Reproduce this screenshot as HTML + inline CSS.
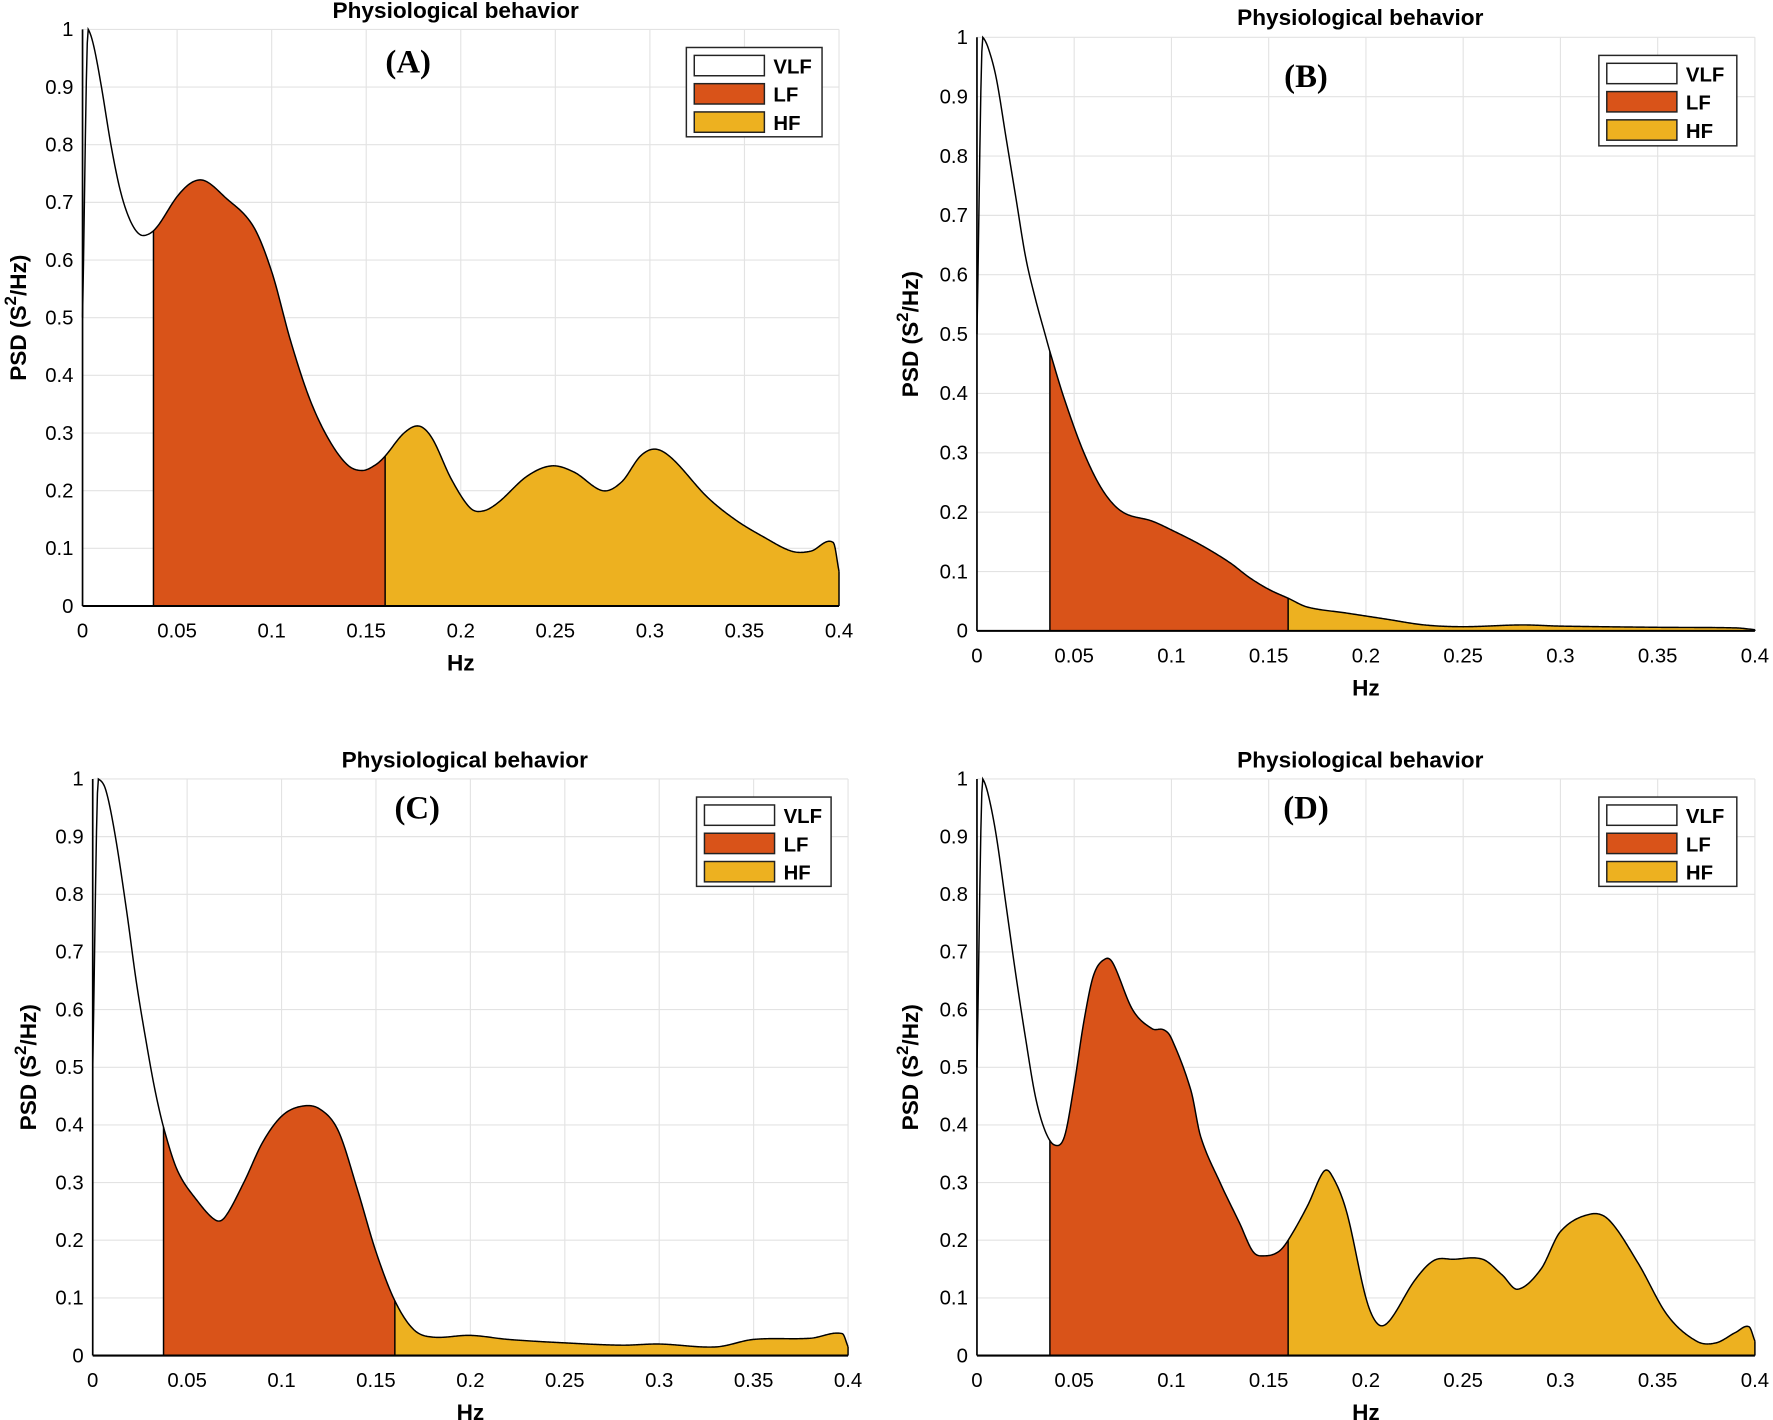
<!DOCTYPE html>
<html><head><meta charset="utf-8"><style>
html,body{margin:0;padding:0;background:#fff;}
svg{display:block;}
text{font-family:"Liberation Sans",Arial,sans-serif;fill:#000;}
</style></head><body>
<svg id="s" width="1773" height="1420" viewBox="0 0 1568 1256" preserveAspectRatio="none" xmlns="http://www.w3.org/2000/svg"></svg>
<script>
const NS="http://www.w3.org/2000/svg";
const S=document.getElementById('s');
function el(t,a,txt){const e=document.createElementNS(NS,t);for(const k in a)e.setAttribute(k,a[k]);if(txt!==undefined)e.textContent=txt;S.appendChild(e);return e;}
function interp(pts){
 const n=pts.length,xs=pts.map(p=>p[0]),ys=pts.map(p=>p[1]);
 const d=[],m=[];
 for(let i=0;i<n-1;i++)d.push((ys[i+1]-ys[i])/(xs[i+1]-xs[i]));
 m[0]=d[0];m[n-1]=d[n-2];
 for(let i=1;i<n-1;i++){m[i]=(ys[i+1]-ys[i-1])/(xs[i+1]-xs[i-1]);}
 m[1]=d[1]*0.5;
 return function(x){
  let i=0;while(i<n-2&&x>xs[i+1])i++;
  const h=xs[i+1]-xs[i],t=(x-xs[i])/h,t2=t*t,t3=t2*t;
  return (2*t3-3*t2+1)*ys[i]+(t3-2*t2+t)*h*m[i]+(-2*t3+3*t2)*ys[i+1]+(t3-t2)*h*m[i+1];
 };
}
function panel(P){
 const {x0,x1,yt,yb}=P;
 const X=f=>x0+f/0.4*(x1-x0), Y=v=>yb-v*(yb-yt);
 for(let i=1;i<=8;i++){el('line',{x1:X(i*0.05),x2:X(i*0.05),y1:yt,y2:yb,stroke:'#e3e3e3','stroke-width':1});}
 for(let i=1;i<=10;i++){el('line',{x1:x0,x2:x1,y1:Y(i/10),y2:Y(i/10),stroke:'#e3e3e3','stroke-width':1});}
 const f0=interp(P.d);
 const f=x=>Math.min(1,Math.max(0,f0(x)));
 const samp=(a,b)=>{const r=[];for(let x=a;x<=b+1e-9;x+=0.0005)r.push([X(x),Y(f(x))]);return r;};
 const poly=(a,b,c)=>{const r=samp(a,b);let s='M'+X(a)+','+yb+' '+r.map(p=>'L'+p[0].toFixed(2)+','+p[1].toFixed(2)).join(' ')+' L'+X(b)+','+yb+'Z';el('path',{d:s,fill:c,stroke:'none'});};
 poly(P.lf,0.16,'#d95319');
 poly(0.16,0.4,'#edb120');
 const all=samp(0,0.4);
 el('path',{d:'M'+all.map(p=>p[0].toFixed(2)+','+p[1].toFixed(2)).join(' L'),fill:'none',stroke:'#000','stroke-width':1.3});
 el('line',{x1:X(P.lf),x2:X(P.lf),y1:yb,y2:Y(f(P.lf)),stroke:'#000','stroke-width':1.3});
 el('line',{x1:X(0.16),x2:X(0.16),y1:yb,y2:Y(f(0.16)),stroke:'#000','stroke-width':1.3});
 el('line',{x1:X(0.4),x2:X(0.4),y1:yb,y2:Y(f(0.4)),stroke:'#000','stroke-width':1.3});
 el('line',{x1:x0,x2:x0,y1:yt,y2:yb,stroke:'#000','stroke-width':1.5});
 el('line',{x1:x0,x2:x1,y1:yb,y2:yb,stroke:'#000','stroke-width':1.8});
 const xl=['0','0.05','0.1','0.15','0.2','0.25','0.3','0.35','0.4'];
 xl.forEach((t,i)=>el('text',{x:X(i*0.05),y:yb+28,'text-anchor':'middle','font-size':18},t));
 for(let i=0;i<=10;i++){const t=i==0?'0':i==10?'1':'0.'+i;el('text',{x:x0-8,y:Y(i/10)+6,'text-anchor':'end','font-size':18},t);}
 el('text',{x:(x0+x1)/2,y:yb+57,'text-anchor':'middle','font-size':20,'font-weight':'bold'},'Hz');
 const yl=el('text',{x:0,y:0,'text-anchor':'middle','font-size':20,'font-weight':'bold',transform:`translate(${P.ylx},${(yt+yb)/2}) rotate(-90)`});
 yl.innerHTML='PSD (S<tspan dy="-9" font-size="15">2</tspan><tspan dy="9">/Hz)</tspan>';
 el('text',{x:P.tx,y:P.ty,'text-anchor':'middle','font-size':20,'font-weight':'bold'},'Physiological behavior');
 el('text',{x:P.lx,y:P.ly,'text-anchor':'middle','font-size':29,'font-weight':'bold','style':'font-family:"Liberation Serif",serif'},P.lab);
 const lg=P.leg;
 el('rect',{x:lg[0],y:lg[1],width:lg[2]-lg[0],height:lg[3]-lg[1],fill:'#fff',stroke:'#262626','stroke-width':1.3});
 [['#fff','VLF'],['#d95319','LF'],['#edb120','HF']].forEach((c,i)=>{
  const yy=lg[1]+7+i*25;
  el('rect',{x:lg[0]+7,y:yy,width:62,height:18,fill:c[0],stroke:'#222','stroke-width':1.3});
  el('text',{x:lg[0]+77,y:yy+16,'font-size':18,'font-weight':'bold'},c[1]);
 });
}
panel({x0:73,x1:742,yt:26,yb:536,lf:0.0375,ylx:23,tx:403,ty:16,lx:361,ly:64,lab:'(A)',leg:[607,42,727,121],
d:[[0,0.5],[0.003,1.0],[0.006,0.97],[0.01,0.9],[0.015,0.8],[0.02,0.72],[0.025,0.67],[0.03,0.645],[0.035,0.645],[0.04,0.66],[0.05,0.71],[0.058,0.735],[0.065,0.737],[0.075,0.71],[0.09,0.66],[0.1,0.58],[0.11,0.46],[0.12,0.36],[0.13,0.29],[0.14,0.245],[0.148,0.235],[0.155,0.245],[0.16,0.26],[0.17,0.3],[0.178,0.312],[0.185,0.29],[0.195,0.22],[0.205,0.17],[0.212,0.165],[0.22,0.18],[0.235,0.225],[0.248,0.243],[0.26,0.232],[0.275,0.2],[0.285,0.215],[0.295,0.26],[0.303,0.272],[0.312,0.255],[0.33,0.19],[0.345,0.15],[0.36,0.12],[0.375,0.095],[0.385,0.095],[0.397,0.11],[0.4,0.06]]});
panel({x0:864,x1:1552,yt:33,yb:558,lf:0.0375,ylx:812,tx:1203,ty:22,lx:1155,ly:77,lab:'(B)',leg:[1414,49,1536,129],
d:[[0,0.5],[0.003,1.0],[0.006,0.98],[0.01,0.93],[0.015,0.83],[0.02,0.73],[0.025,0.63],[0.03,0.56],[0.035,0.5],[0.038,0.465],[0.045,0.39],[0.055,0.3],[0.065,0.235],[0.075,0.2],[0.09,0.185],[0.1,0.17],[0.115,0.145],[0.13,0.115],[0.14,0.09],[0.15,0.07],[0.16,0.055],[0.17,0.04],[0.19,0.03],[0.21,0.02],[0.23,0.01],[0.25,0.007],[0.28,0.01],[0.3,0.008],[0.35,0.006],[0.39,0.005],[0.4,0.002]]});
panel({x0:82,x1:750,yt:689,yb:1199,lf:0.0375,ylx:32,tx:411,ty:679,lx:369,ly:724,lab:'(C)',leg:[616,705,735,784],
d:[[0,0.5],[0.003,1.0],[0.007,0.98],[0.012,0.9],[0.018,0.77],[0.023,0.65],[0.028,0.55],[0.033,0.46],[0.038,0.39],[0.045,0.32],[0.055,0.27],[0.065,0.235],[0.07,0.24],[0.08,0.3],[0.09,0.37],[0.1,0.415],[0.11,0.432],[0.12,0.428],[0.13,0.39],[0.14,0.29],[0.15,0.18],[0.16,0.095],[0.17,0.045],[0.18,0.032],[0.2,0.035],[0.22,0.028],[0.25,0.022],[0.28,0.018],[0.3,0.02],[0.33,0.015],[0.35,0.028],[0.38,0.03],[0.397,0.038],[0.4,0.015]]});
panel({x0:864,x1:1552,yt:689,yb:1199,lf:0.0375,ylx:812,tx:1203,ty:679,lx:1155,ly:724,lab:'(D)',leg:[1414,705,1536,784],
d:[[0,0.5],[0.003,1.0],[0.006,0.97],[0.01,0.9],[0.015,0.78],[0.02,0.66],[0.025,0.55],[0.03,0.45],[0.035,0.39],[0.04,0.365],[0.045,0.38],[0.05,0.47],[0.055,0.58],[0.06,0.66],[0.066,0.688],[0.07,0.68],[0.08,0.6],[0.09,0.567],[0.096,0.565],[0.1,0.55],[0.11,0.46],[0.115,0.38],[0.125,0.3],[0.135,0.23],[0.142,0.18],[0.148,0.173],[0.155,0.18],[0.16,0.2],[0.17,0.26],[0.178,0.318],[0.182,0.315],[0.19,0.25],[0.2,0.1],[0.206,0.055],[0.212,0.06],[0.225,0.13],[0.235,0.165],[0.245,0.167],[0.26,0.167],[0.27,0.14],[0.278,0.115],[0.29,0.15],[0.3,0.215],[0.315,0.245],[0.325,0.235],[0.34,0.16],[0.355,0.07],[0.37,0.025],[0.38,0.022],[0.39,0.04],[0.397,0.05],[0.4,0.025]]});
</script>
</body></html>
